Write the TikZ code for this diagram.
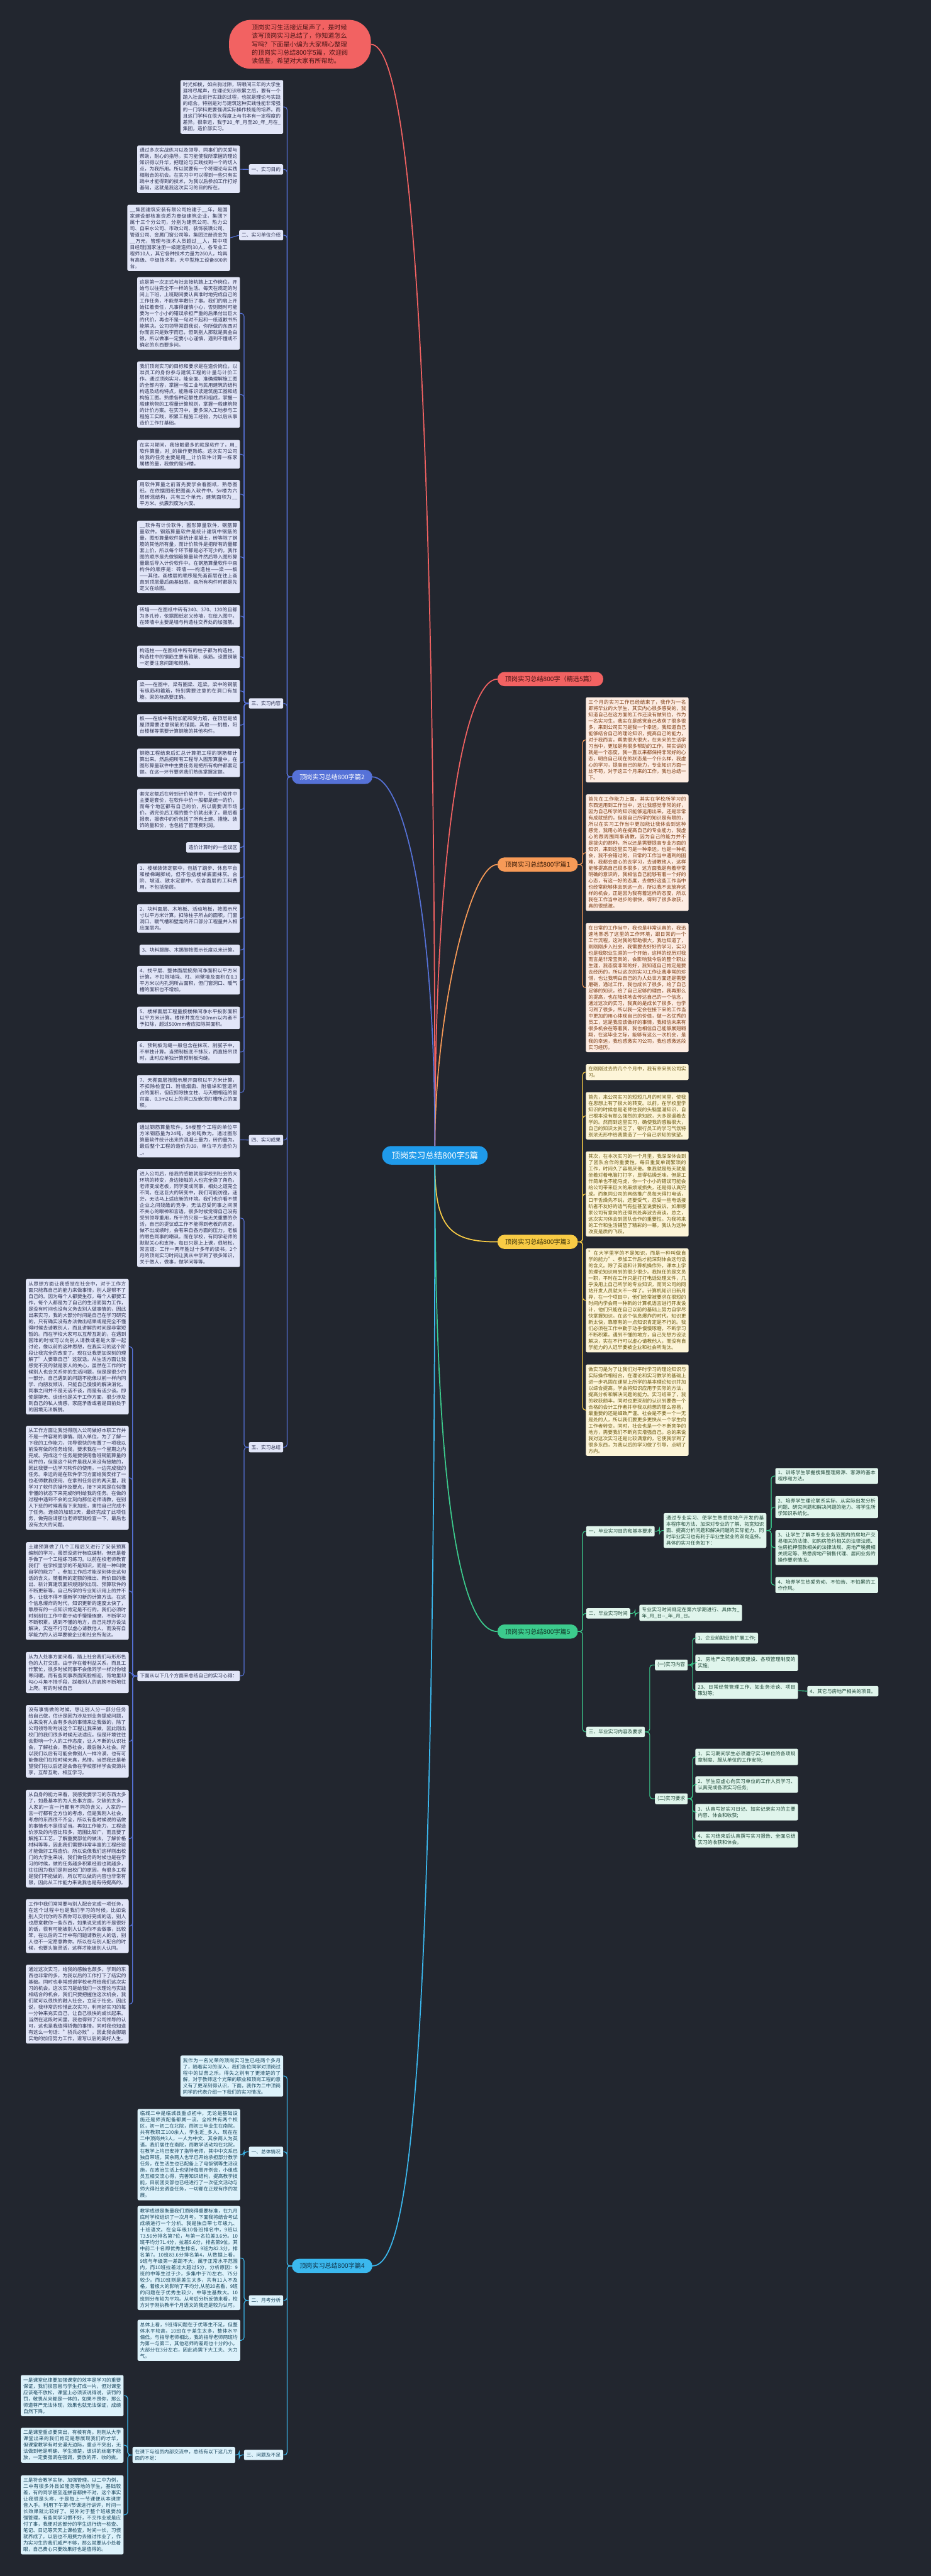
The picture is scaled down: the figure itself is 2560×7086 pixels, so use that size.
\documentclass[tikz,border=0pt]{standalone}
\usepackage{fontspec}
\setmainfont{Noto Sans CJK SC}
\usepackage{xcolor}
\usepackage{tikz}
\usetikzlibrary{positioning,calc}
\XeTeXlinebreaklocale "zh"
\XeTeXlinebreakskip = 0pt plus 1pt
\setlength{\parindent}{0pt}

\definecolor{bgc}{HTML}{22262F}
\definecolor{hubc}{HTML}{1F9AEA}
\definecolor{rtln}{HTML}{F26262}
\definecolor{rtdk}{HTML}{4A1515}
\definecolor{c1ln}{HTML}{F79A57}
\definecolor{c1bg}{HTML}{FDECE2}
\definecolor{c1fg}{HTML}{7B3A10}
\definecolor{c1dk}{HTML}{3A1A06}
\definecolor{c2ln}{HTML}{5672D8}
\definecolor{c2bg}{HTML}{E2E6F8}
\definecolor{c2fg}{HTML}{2B3050}
\definecolor{c3ln}{HTML}{F8CB45}
\definecolor{c3bg}{HTML}{FDF5D8}
\definecolor{c3fg}{HTML}{6A5710}
\definecolor{c3dk}{HTML}{3A3005}
\definecolor{c4ln}{HTML}{3BB8EE}
\definecolor{c4bg}{HTML}{DDF2FB}
\definecolor{c4fg}{HTML}{17445C}
\definecolor{c4dk}{HTML}{0D3147}
\definecolor{c5ln}{HTML}{3CCB8D}
\definecolor{c5bg}{HTML}{E0F5EC}
\definecolor{c5fg}{HTML}{1D4636}
\definecolor{c5dk}{HTML}{0F3325}

\begin{document}
\begin{tikzpicture}[
    x=1pt, y=-1pt,
    rootnode/.style={rectangle, rounded corners=60pt, fill=rtln, text=rtdk, text width=266pt, align=left, inner xsep=62pt, inner ysep=13pt, font=\fontsize{17.4pt}{23pt}\selectfont},
    hub/.style={rectangle, rounded corners=25pt, fill=hubc, text=white, minimum height=51pt, inner xsep=26pt, font=\fontsize{23.3pt}{28pt}\selectfont},
    branchnode/.style={rectangle, rounded corners=19pt, minimum height=39pt, inner xsep=21pt, font=\fontsize{17.5pt}{21pt}\selectfont},
    chip/.style={rectangle, rounded corners=4pt, inner xsep=7pt, inner ysep=8pt, font=\fontsize{13.4pt}{17.3pt}\selectfont},
    para/.style={chip, text width=268.5pt, align=justify, inner ysep=7pt},
    pal/.style={fill=#1bg, text=#1fg},
    wire/.style={draw=#1ln, line width=2pt, rounded corners=8pt},
    bigwire/.style={draw=#1ln, line width=3pt},
]

\fill[bgc] (0,0) rectangle (2560,7086);

% === ROOT AND HUB ===
\node[rootnode] (root) at (825,122) {顶岗实习生活接近尾声了，是时候该写顶岗实习总结了，你知道怎么写吗？下面是小编为大家精心整理的顶岗实习总结800字5篇，欢迎阅读借鉴，希望对大家有所帮助。};
\node[hub] (ctr) at (1196,3178) {顶岗实习总结800字5篇};
\draw[bigwire=rt] (root.east) .. controls (1150,122) and (1196,1400) .. (ctr.north);

% === 精选5篇 ===
\node[branchnode, fill=rtln, text=rtdk, anchor=west] (bsel) at (1368,1868) {顶岗实习总结800字（精选5篇）};
\draw[bigwire=rt] (ctr.north) .. controls (1196,2300) and (1280,1868) .. (bsel.west);

% === 篇1 ===
\node[branchnode, fill=c1ln, text=c1dk, anchor=west] (b1) at (1368,2378) {顶岗实习总结800字篇1};
\draw[bigwire=c1] (ctr.north) .. controls (1196,2800) and (1290,2378) .. (b1.west);

\node[para, pal=c1, anchor=north west] (b1a) at (1611,1918) {三个月的实习工作已经结束了，我作为一名即将毕业的大学生，其实内心很多感受的，我知道自己在这方面的工作还没有做到位，作为一名实习生，我实在是感觉自己收获了很多很多，来到公司实习是我一个幸运，我知道自己能够结合自己的理论知识，提高自己的能力，对于我而言，帮助很大很大，在未来的生活学习当中，更加是有很多帮助的工作，其实讲的就是一个态度，我一直以来都保持非常好的心态，明白自己现在的状态是一个什么样，我虚心的学习，提高自己的能力，专业知识方面一丝不苟，对于这三个月来的工作，我也总结一下。};
\node[para, pal=c1, anchor=north west] (b1b) at (1611,2185) {首先在工作能力上面，其实在学校所学习的东西运用到工作当中，这让我感觉非常的好，因为自己所学的知识能够运用出来，还是非常有成就感的，但是自己所学的知识是有限的，所以在实习工作当中更加能让我体会到这种感觉，我用心的在提高自己的专业能力，我虚心的跟周围同事请教，因为自己的能力并不是拔尖的那种，所以还是需要提高专业方面的知识，来到这里实习是一种幸运，也是一种机会，我不会错过的，日常的工作当中遇到的困难，我都会虚心的去学习，去请教他人，这样能够提高自己很多很多，这方面我是有着非常明确的意识的，我相信自己能够有着一个好的心态，有这一好的态度，去做好这些工作当中也经常能够体会到这一点，所以我不会放弃这样的机会，正是因为我有着这样的态度，所以我在工作当中进步的很快，得到了很多收获，真的很感激。};
\node[para, pal=c1, anchor=north west] (b1c) at (1611,2539) {在日常的工作当中，我也是非常认真的，我迅速地熟悉了这里的工作环境，跟日常的一个工作流程，这对我的帮助很大，我也知道了，刚刚刚步入社会，我需要去好好的学习，实习也是我职业生涯的一个开始，这样的经历对我而言是非常宝贵的，会影响我今后的整个职业生涯，我态度非常的好，我知道自己肯定是要去经历的，所以这次的实习工作让我非常的珍惜，也让我明白自己的为人处世方面还是需要磨砺，通过工作，我也成长了很多，给了自己足够的知识，给了自己足够的理由，我再那么的提高，也在陆续地去传达自己的一个信念，通过这次的实习，我真的是成长了很多，也学习到了很多，所以我一定会在接下来的工作当中更加的用心体现自己的价值，做一名优秀的员工，这是我应该做好的事情，我相信未来有很多机会在等着我，我也相信自己能够展翅翱翔，在这毕业之际，能够有这么一次机会，是我的幸运，我也感激实习公司，我也感激这段实习经历。};
\draw[wire=c1] (b1.east) -- ++(13,0) |- (b1a.west);
\draw[wire=c1] (b1.east) -- ++(13,0) |- (b1b.west);
\draw[wire=c1] (b1.east) -- ++(13,0) |- (b1c.west);

% === 篇3 ===
\node[branchnode, fill=c3ln, text=c3dk, anchor=west] (b3) at (1368,3416) {顶岗实习总结800字篇3};
\draw[bigwire=c3] (ctr.south) .. controls (1196,3380) and (1240,3416) .. (b3.west);

\node[para, pal=c3, anchor=north west] (b3a) at (1611,2927) {在刚刚过去的几个个月中，我有幸来到公司实习。};
\node[para, pal=c3, anchor=north west] (b3b) at (1611,3004) {首先，来公司实习的短短几月的时间里，使我在思想上有了很大的转变。以前，在学校里学知识的时候总是老师往我的头脑里灌知识，自己根本没有那么强烈的求知欲，大多是逼着去学的。然而到这里实习，确使我的感触很大，自己的知识太贫乏了，银行员工的学习气氛特别浓无形中给我营造了一个自己求知的欲望。};
\node[para, pal=c3, anchor=north west] (b3c) at (1611,3167) {其次，在本次实习的一个月里，我深深体会到了团队合作的重要性。每日重复单调繁琐的工作，时间久了容易厌倦。象我就是每天就是坐着对着电脑打打字，显得枯燥乏味。但是工作简单也不能马虎，你一个小小的错误可能会给公司带来巨大的麻烦或损失，还是得认真完成。而象同公司的网络推广员每天得打电话，口干舌燥先不说，还要受气，忍受一些电话接听者不友好的语气有些甚至说要投诉。如果哪家公司有意向的还得到处奔波去商谈。总之，这次实习体会到团队合作的重要性。为我将来的工作和生活铺垫了精彩的一幕，我认为这种改变是质的飞跃。};
\node[para, pal=c3, anchor=north west] (b3d) at (1611,3434) {"在大学里学的不是知识，而是一种叫做自学的能力"、参加工作后才能深刻体会这句话的含义。除了英语和计算机操作外，课本上学的理论知识用到的很少很少。我担任的是文员一职，平时在工作只是打打电话处理文件，几乎没用上自己所学的专业知识，而同公司的网站开发人员就大不一样了。计算机知识日新月异，在一个项目中，他们经常被要求在很短的时间内学会用一种新的计算机语言进行开发设计，他们只能在自己以前的基础上努力自学尽快掌握知识。在这个信息爆炸的时代，知识更新太快，靠原有的一点知识肯定是不行的。我们必须在工作中勤于动手慢慢琢磨，不断学习不断积累。遇到不懂的地方，自己先想方设法解决，实在不行可以虚心请教他人，而没有自学能力的人迟早要被企业和社会所淘汰。};
\node[para, pal=c3, anchor=north west] (b3e) at (1611,3753) {做实习是为了让我们对平时学习的理论知识与实际操作相结合，在理论和实习教学的基础上进一步巩固在课堂上所学的基本理论知识并加以综合提高，学会将知识应用于实际的方法，提高分析和解决问题的能力。实习结束了，我的收获颇丰，同时也更深刻的认识到要做一个合格的会计工作者并非我以前想的那么容易，最重要的还是细致严谨。社会是不要一个一无是处的人，所以我们要更多更快从一个学生向工作者转变，同时，社会也是一个不断竞争的地方，需要我们不断充实增强自己。总的来说我对这次实习还是比较满意的，它使我学到了很多东西，为我以后的学习做了引导，点明了方向。};
\draw[wire=c3] (b3.east) -- ++(13,0) |- (b3a.west);
\draw[wire=c3] (b3.east) -- ++(13,0) |- (b3b.west);
\draw[wire=c3] (b3.east) -- ++(13,0) |- (b3c.west);
\draw[wire=c3] (b3.east) -- ++(13,0) |- (b3d.west);
\draw[wire=c3] (b3.east) -- ++(13,0) |- (b3e.west);

% === 篇5 ===
\node[branchnode, fill=c5ln, text=c5dk, anchor=west] (b5) at (1368,4488) {顶岗实习总结800字篇5};
\draw[bigwire=c5] (ctr.south) .. controls (1196,4200) and (1280,4488) .. (b5.west);

\node[chip, pal=c5, anchor=west] (b5s1) at (1612,4212) {一、毕业实习目的和基本要求};
\node[para, pal=c5, anchor=north west] (b5s1a) at (1825,4162) {通过专业实习、使学生熟悉房地产开发的基本程序和方法、加深对专业的了解、拓宽知识面、提高分析问题和解决问题的实际能力、同时毕业实习也有利于毕业生就业的双向选择。具体的实习任务如下：};
\node[para, pal=c5, anchor=north west] (b5t1) at (2132,4038) {1、训练学生掌握搜集整理房源、客源的基本程序和方法。};
\node[para, pal=c5, anchor=north west] (b5t2) at (2132,4115) {2、培养学生理论联系实际、从实际出发分析问题、研究问题和解决问题的能力、将学生所学知识系统化。};
\node[para, pal=c5, anchor=north west] (b5t3) at (2132,4209) {3、让学生了解本专业业务范围内的房地产交易相关的法律、如购房签约相关的法律法规、住房抵押借款相关的法律法规、房地产税费相关规定等、熟悉房地产销售代理、居间业务的操作要求情况。};
\node[para, pal=c5, anchor=north west] (b5t4) at (2132,4338) {4、培养学生热爱劳动、不怕苦、不怕累的工作作风。};
\node[chip, pal=c5, anchor=west] (b5s2) at (1612,4438) {二、毕业实习时间};
\node[para, pal=c5, anchor=north west] (b5s2a) at (1758,4414) {专业实习时间规定在第六学期进行、具体为\_年\_月\_日-{}-\_年\_月\_日。};
\node[chip, pal=c5, anchor=west] (b5s3) at (1612,4764) {三、毕业实习内容及要求};
\node[chip, pal=c5, anchor=west] (b5u1) at (1801,4580) {(一)实习内容};
\node[chip, pal=c5, anchor=west] (b5v1) at (1912,4506) {1、企业前期业务扩展工作;};
\node[para, pal=c5, anchor=north west] (b5v2) at (1912,4551) {2、房地产公司的制度建设、各项管理制度的实施;};
\node[para, pal=c5, anchor=north west] (b5v3) at (1912,4628) {23、日常经营管理工作、如业务洽谈、项目策划等;};
\node[chip, pal=c5, anchor=west] (b5v4) at (2220,4652) {4、其它与房地产相关的项目。};
\node[chip, pal=c5, anchor=west] (b5u2) at (1801,4948) {(二)实习要求};
\node[para, pal=c5, anchor=north west] (b5w1) at (1912,4810) {1、实习期间学生必须遵守实习单位的各项规章制度、服从单位的工作安排;};
\node[para, pal=c5, anchor=north west] (b5w2) at (1912,4886) {2、学生应虚心向实习单位的工作人员学习、认真完成各项实习任务;};
\node[para, pal=c5, anchor=north west] (b5w3) at (1912,4962) {3、认真写好实习日记、如实记录实习的主要内容、体会和收获;};
\node[para, pal=c5, anchor=north west] (b5w4) at (1912,5038) {4、实习结束后认真撰写实习报告、全面总结实习的收获和体会。};
\draw[wire=c5] (b5.east) -- ++(13,0) |- (b5s1.west);
\draw[wire=c5] (b5.east) -- ++(13,0) |- (b5s2.west);
\draw[wire=c5] (b5.east) -- ++(13,0) |- (b5s3.west);
\draw[wire=c5] (b5s1.east) -- ++(13,0) |- (b5s1a.west);
\draw[wire=c5] (b5s1a.east) -- ++(13,0) |- (b5t1.west);
\draw[wire=c5] (b5s1a.east) -- ++(13,0) |- (b5t2.west);
\draw[wire=c5] (b5s1a.east) -- ++(13,0) |- (b5t3.west);
\draw[wire=c5] (b5s1a.east) -- ++(13,0) |- (b5t4.west);
\draw[wire=c5] (b5s2.east) -- ++(13,0) |- (b5s2a.west);
\draw[wire=c5] (b5s3.east) -- ++(13,0) |- (b5u1.west);
\draw[wire=c5] (b5s3.east) -- ++(13,0) |- (b5u2.west);
\draw[wire=c5] (b5u1.east) -- ++(13,0) |- (b5v1.west);
\draw[wire=c5] (b5u1.east) -- ++(13,0) |- (b5v2.west);
\draw[wire=c5] (b5u1.east) -- ++(13,0) |- (b5v3.west);
\draw[wire=c5] (b5v3.east) -- (b5v4.west);
\draw[wire=c5] (b5u2.east) -- ++(13,0) |- (b5w1.west);
\draw[wire=c5] (b5u2.east) -- ++(13,0) |- (b5w2.west);
\draw[wire=c5] (b5u2.east) -- ++(13,0) |- (b5w3.west);
\draw[wire=c5] (b5u2.east) -- ++(13,0) |- (b5w4.west);

% === 篇2 ===
\node[branchnode, fill=c2ln, text=white, anchor=east] (b2) at (1024,2137) {顶岗实习总结800字篇2};
\draw[bigwire=c2] (ctr.north) .. controls (1196,2450) and (1100,2137) .. (b2.east);

\node[para, pal=c2, anchor=north east] (b2p0) at (779,220) {时光如梭，如白驹过隙，转眼间三年的大学生涯将尽尾声，在理论知识积累之后，要有一个踏入社会进行实践的过程，也就是理论与实践的结合。特别是对与建筑这种实践性能非常强的一门学科更要强调实际操作技能的培养。而且这门学科在很大程度上与书本有一定程度的差异。很幸运，我于20\_年\_月至20\_年\_月在\_集团，造价部实习。};
\node[chip, pal=c2, anchor=east] (b2s1) at (779,466) {一、实习目的};
\node[para, pal=c2, anchor=north east] (b2s1a) at (660,400) {通过多次实战练习以及领导、同事们的关爱与帮助，耐心的指导。实习能使我所掌握的理论知识得以升华，把理论与实践找到一个的切入点，为我所用。所以就要有一个将理论与实践相融合的机会。在实习中可以得到一些只有实践中才能得到的技术，为我以后参加工作打好基础，这就是我这次实习的目的所在。};
\node[chip, pal=c2, anchor=east] (b2s2) at (779,647) {二、实习单位介绍};
\node[para, pal=c2, anchor=north east] (b2s2a) at (633,563) {\_\_集团建筑安装有限公司始建于\_\_年，是国家建设部核准资质为壹级建筑企业，集团下属十三个分公司，分别为建筑公司、热力公司、自来水公司、市政公司、装饰装璜公司、管道公司、金属门窗公司等。集团注册资金为\_\_万元，管理与技术人员超过\_\_人，其中项目经理(国家注册一级建造师)30人，各专业工程师10人，其它各种技术力量为260人，均具有高级、中级技术职。大中型施工设备800余台。};
\node[chip, pal=c2, anchor=east] (b2s3) at (779,1935) {三、实习内容};
\node[para, pal=c2, anchor=north east] (k01) at (660,762) {这是第一次正式与社会接轨踏上工作岗位，开始与以往完全不一样的生活。每天在规定的时间上下班，上班期间要认真准时地完成自己的工作任务，不能草率敷衍了事。我们的肩上开始扛着责任，凡事得谨慎小心，否则随时可能要为一个小小的错误承担严重的后果付出巨大的代价，再也不是一句对不起和一纸道歉书所能解决。公司领导常跟我说，你所做的东西对你而言只是数字而已，但到别人那就是真金白银，所以做事一定要小心谨慎，遇到不懂或不确定的东西要多问。};
\node[para, pal=c2, anchor=north east] (k02) at (660,994) {我们顶岗实习的目标和要求是在造价岗位，以准员工的身份参与建筑工程的计量与计价工作。通过顶岗实习，能全面、准确理解施工图的全部内容，掌握一般工业与民用建筑的结构构造及结构特点，能熟练识读建筑施工图和结构施工图。熟悉各种定额性质和组成，掌握一般建筑物的工程量计算规则，掌握一般建筑物的计价方案。在实习中，要多深入工地参与工程施工实践，积累工程施工经验，为以后从事造价工作打基础。};
\node[para, pal=c2, anchor=north east] (k03) at (660,1210) {在实习期间，我接触最多的就是软件了，用\_软件算量，对\_的操作更熟练。这次实习公司给我的任务主要是用\_\_计价软件计算一栋家属楼的量，我做的是5\#楼。};
\node[para, pal=c2, anchor=north east] (k04) at (660,1320) {用软件算量之前首先要学会看图纸，熟悉图纸。在依据图纸把图画入软件中。5\#楼为六层砖混结构，共有三个单元，建筑面积为\_\_平方米。抗震烈度为六度。};
\node[para, pal=c2, anchor=north east] (k05) at (660,1432) {\_\_软件有计价软件，图形算量软件，钢筋算量软件。钢筋算量软件是统计建筑中钢筋的量，图形算量软件是统计混凝土，砖等除了钢筋的其他所有量，而计价软件是把所有的量都套上价，所以每个环节都是必不可少的。我作图的顺序是先做钢筋算量软件然后导入图形算量最后导入计价软件中。在钢筋算量软件中画构件的顺序是：砖墙——构造柱——梁——板——其他。画楼层的顺序是先画首层在往上画直到顶层最后画基础层。画所有构件时都是先定义在绘图。};
\node[para, pal=c2, anchor=north east] (k06) at (660,1664) {砖墙——在图纸中砖有240、370、120的且都为多孔砖，依据图纸定义砖墙，在绘入图中。在砖墙中主要是墙与构造柱交界处的加强筋。};
\node[para, pal=c2, anchor=north east] (k07) at (660,1776) {构造柱——在图纸中所有的柱子都为构造柱。构造柱中的钢筋主要有箍筋、纵筋。设置钢筋一定要注意间距和规格。};
\node[para, pal=c2, anchor=north east] (k08) at (660,1870) {梁——在图中，梁有圈梁、连梁。梁中的钢筋有纵筋和箍筋，特别需要注意的在洞口有加筋。梁的标高要正确。};
\node[para, pal=c2, anchor=north east] (k09) at (660,1964) {板——在板中有附加筋和受力筋，在顶层是坡屋顶需要注意钢筋的锚固。其他——挑檐，阳台楼梯等需要计算钢筋的其他构件。};
\node[para, pal=c2, anchor=north east] (k10) at (660,2059) {钢筋工程结束后汇总计算把工程的钢筋都计算出来。然后把所有工程导入图形算量中。在图形算量软件中主要任务是把所有构件都套定额。在这一环节要求我们熟练掌握定额。};
\node[para, pal=c2, anchor=north east] (k11) at (660,2170) {套完定额后在转到计价软件中，在计价软件中主要是套价，在软件中价一般都是统一的价，而每个地区都有自己的价，所以需要调市场价。调完价后工程的整个价就出来了。最后看报表，报表中的价包括了所有土建、措施、装饰的量和价，也包括了管理费利润。};
\node[chip, pal=c2, anchor=east] (k12) at (660,2331) {造价计算时的一些误区};
\node[para, pal=c2, anchor=north east] (k13) at (660,2375) {1、楼梯装饰定额中，包括了踏步、休息平台和楼梯踢脚线，但不包括楼梯底面抹灰。台阶、坡道、散水定额中，仅含面层的工料费用，不包括垫层。};
\node[para, pal=c2, anchor=north east] (k14) at (660,2487) {2、块料面层、木地板、活动地板，按图示尺寸以平方米计算。扣除柱子所占的面积，门窗洞口、暖气槽和壁龛的开口部分工程量并入相应面层内。};
\node[chip, pal=c2, anchor=east] (k15) at (660,2613) {3、块料踢脚、木踢脚按图示长度以米计算。};
\node[para, pal=c2, anchor=north east] (k16) at (660,2657) {4、找平层、整体面层按房间净面积以平方米计算，不扣除墙垛、柱、间壁墙及面积在0.3平方米以内孔洞所占面积，但门窗洞口、暖气槽的面积也不增加。};
\node[para, pal=c2, anchor=north east] (k17) at (660,2769) {5、楼梯面层工程量按楼梯间净水平投影面积以平方米计算。楼梯井宽在500mm以内者不予扣除，超过500mm者应扣除其面积。};
\node[para, pal=c2, anchor=north east] (k18) at (660,2863) {6、预制板沟缝一般包含在抹灰、刮腻子中，不单独计算。当预制板底不抹灰，而直接吊顶时，此时应单独计算预制板沟缝。};
\node[para, pal=c2, anchor=north east] (k19) at (660,2957) {7、天棚面层按图示展开面积以平方米计算，不扣除检查口、附墙烟囱、附墙垛和管道所占的面积，但应扣除独立柱、与天棚相连的窗帘盒、0.3m2以上的洞口及嵌顶灯槽所占的面积。};
\node[chip, pal=c2, anchor=east] (b2s4) at (779,3136) {四、实习成果};
\node[para, pal=c2, anchor=north east] (b2s4a) at (660,3087) {通过钢筋算量软件，5\#楼整个工程的单位平方米钢筋量为24吨，总的吨数为。通过图形算量软件统计出来的混凝土量为，砖的量为。最后整个工程的造价为39，单位平方造价为\_。};
\node[chip, pal=c2, anchor=east] (b2s5) at (779,3981) {五、实习总结};
\node[para, pal=c2, anchor=north east] (b2s5a) at (660,3216) {进入公司后，给我的感触就是学校到社会的大环境的转变，身边接触的人也完全换了角色，老师变成老板，同学变成同事，相处之道完全不同。在这巨大的转变中，我们可能彷徨，迷茫，无法马上适应新的环境。我们也许看不惯企业之间残酷的竞争，无法忍受同事之间漠不关心的眼神和言语。很多时候觉得自己没有受到领导重用，所干的只是一些无关重要的杂活，自己的提议或工作不能得到老板的肯定。做不出成绩时，会有来自各方面的压力，老板的眼色同事的嘲讽。而在学校，有同学老师的默默关心和支持，每日只是上上课，很轻松。常言道：工作一两年胜过十多年的读书。2个月的顶岗实习时间让我从中学到了很多知识，关于做人，做事，做学问等等。};
\node[chip, pal=c2, anchor=east] (b2s5b) at (660,4610) {下面从以下几个方面来总结自己的实习心得：};
\node[para, pal=c2, anchor=north east] (e1) at (354,3518) {从思想方面让我感觉在社会中，对于工作方面只能靠自己的能力来做事情，别人是帮不了自己的。因为每个人都要生存，每个人都要工作，每个人都是为了自己的生活而努力工作，是没有时间也没有义务去别人做事情的，因此出来实习，我的大部分时间是自己在学习研究的，只有确实没有办法做出结果或是完全不懂得时候去请教别人，而且讲解的时间是非常短暂的。而在学校大家可以互帮互助的，在遇到困难的时候可以向别人请教或者是大家一起讨论，像以前的这种思想，在我实习的这个阶段让我完全的改变了。现在让我更加深刻的理解了"人要靠自己"这就话。从生活方面让我感觉不变的就是家人的关心，虽然在工作的时候别人也会关系你的生活问题，但是是很少的一部分。自己遇到的问题不能像以前一样向同学、向朋友倾诉，只能自己慢慢的解决消化。同事之间并不是无话不谈，而是有话少谈。即使是聊天、谈话也是关于工作方面，很少涉及到自己的私人情感，家庭矛盾或者是目前处于的困境无法解脱。};
\node[para, pal=c2, anchor=north east] (e2) at (354,3922) {从工作方面让我觉得刚入公司做好本职工作并不是一件容易的事情。刚入单位，为了了解一下我的工作能力，领导很快的布置了一项我以前没有做的任务给我，要求我在一个星期之内完成。完成这个任务是要使用鲁班钢筋算量的软件的，但是这个软件是我从来没有接触的，因此我要一边学习软件的使用，一边完成我的任务。幸运的是在软件学习方面给我安排了一位老师教我使用，在拿到任务后的两天里，我学习了软件的操作及要点，接下来就是在似懂非懂的状态下来完成吩咐给我的任务。在做的过程中遇到不会的立刻向那位老师请教，在别人下班的时候我留下来加班，害怕自己完成不了任务。连续的加班3天，最终完成了此项任务，做完后请那位老师帮我检查一下，最后也没有太大的问题。};
\node[para, pal=c2, anchor=north east] (e3) at (354,4242) {土建预算做了几个工程后又进行了安装预算编制的学习，虽然没进行标底编制，但还是着手做了一个工程练习练习。以前在校老师教育我们"在学校里学的不是知识，而是一种叫做自学的能力"。参加工作后才能深刻体会这句话的含义。随着新的定额的推出、新价目的推出、新计算建筑面积规则的出现、预算软件的不断更新等，自己所学的专业知识用上的并不多，让我不得不重新学习新的计算方法。在这个信息爆炸的时代，知识更新的速度太快了，靠原有的一点知识肯定是不行的。我们必须时时刻刻在工作中勤于动手慢慢琢磨，不断学习不断积累。遇到不懂的地方，自己先想方设法解决，实在不行可以虚心请教他人，而没有自学能力的人迟早要被企业和社会所淘汰。};
\node[para, pal=c2, anchor=north east] (e4) at (354,4544) {从为人处事方面来看，踏上社会我们与形形色色的人打交道。由于存在着利益关系，而且工作繁忙，很多时候同事不会像同学一样对你嘘寒问暖。而有些同事表面笑脸相迎，背地里却勾心斗角不择手段，踩着别人的肩膀不断地往上爬。有的时候自己};
\node[para, pal=c2, anchor=north east] (e5) at (354,4690) {没有事情做的时候，想让别人分一部分任务给自己做，估计是因为涉及到业务提成问题，从来没有人会有多余的事情来让我做的，除了公司领导吩咐说这个工程让我来做，因此刚出校门的我们很多时候无法适应。但是环境往往会影响一个人的工作态度，让人不断的认识社会，了解社会，熟悉社会，最后融入社会。所以我们以后有可能会像别人一样冷漠，也有可能像我们在校时候天真，热情。当然我还是希望我们在以后还是会像在学校那样学会资源共享，互帮互助，相互学习。};
\node[para, pal=c2, anchor=north east] (e6) at (354,4923) {从自身的能力来看，我感觉要学习的东西太多了，如最基本的为人处事方面，欠缺的太多，人家的一言一行都有不同的含义，人家的一言一行都有全方位的考虑，但是我刚入社会，考虑的东西很不齐全，所以有些时候说的话做的事情也不是很妥当。再如工作能力，工程造价涉及的内容比较多，范围比较广，而且要了解施工工艺，了解重要部位的做法，了解价格材料等等，因此我们需要非常丰富的工程经验才能做好工程造价。所以说像我们这样刚出校门的大学生来说，我们做任务的时候也是在学习的时候，做的任务越多积累经验也就越多，往往因为我们是刚出校门的原因，有很多工程是我们不能做的，所以可以做的内容也非常有限，因此从工作能力来说我也是有待提高的。};
\node[para, pal=c2, anchor=north east] (e7) at (354,5224) {工作中我们常常要与别人配合完成一项任务，在这个过程中也是我们学习的时候，比如说别人交代你的东西你可以很好完成的话，别人也愿意教你一些东西，如果说完成的不是很好的话，很有可能被别人认为你不会做事，比较笨，在以后的工作中有问题请教别人的话，别人也不一定愿意教你。所以在与别人配合的时候，也要头脑灵活，这样才能被别人认同。};
\node[para, pal=c2, anchor=north east] (e8) at (354,5404) {通过这次实习，给我的感触也颇多。学到的东西也非常的多，为我以后的工作打下了结实的基础。同时也非常感谢学校老师给我们这次实习的机会。这次实习是给我们一次理论与实践相结合的机会，我们只要把握住这次机会，我们就可以很快的融入社会，立足于社会。因此说，我非常的珍惜此次实习，利用好实习的每一分钟来充实自己，让自己很快的成长起来。当然在这段时间里，我也得到了公司领导的认可，这也是我值得骄傲的事情。同时我也知道有这么一句话："骄兵必败"，因此我会脚踏实地的加倍努力工作，谱写以后的美好人生。};

\draw[wire=c2] (b2.west) -- ++(-13,0) |- (b2p0.east);
\draw[wire=c2] (b2.west) -- ++(-13,0) |- (b2s1.east);
\draw[wire=c2] (b2.west) -- ++(-13,0) |- (b2s2.east);
\draw[wire=c2] (b2.west) -- ++(-13,0) |- (b2s3.east);
\draw[wire=c2] (b2.west) -- ++(-13,0) |- (b2s4.east);
\draw[wire=c2] (b2.west) -- ++(-13,0) |- (b2s5.east);
\draw[wire=c2] (b2s1.west) -- (b2s1a.east);
\draw[wire=c2] (b2s2.west) -- (b2s2a.east);
\draw[wire=c2] (b2s3.west) -- ++(-13,0) |- (k01.east);
\draw[wire=c2] (b2s3.west) -- ++(-13,0) |- (k02.east);
\draw[wire=c2] (b2s3.west) -- ++(-13,0) |- (k03.east);
\draw[wire=c2] (b2s3.west) -- ++(-13,0) |- (k04.east);
\draw[wire=c2] (b2s3.west) -- ++(-13,0) |- (k05.east);
\draw[wire=c2] (b2s3.west) -- ++(-13,0) |- (k06.east);
\draw[wire=c2] (b2s3.west) -- ++(-13,0) |- (k07.east);
\draw[wire=c2] (b2s3.west) -- ++(-13,0) |- (k08.east);
\draw[wire=c2] (b2s3.west) -- ++(-13,0) |- (k09.east);
\draw[wire=c2] (b2s3.west) -- ++(-13,0) |- (k10.east);
\draw[wire=c2] (b2s3.west) -- ++(-13,0) |- (k11.east);
\draw[wire=c2] (b2s3.west) -- ++(-13,0) |- (k12.east);
\draw[wire=c2] (b2s3.west) -- ++(-13,0) |- (k13.east);
\draw[wire=c2] (b2s3.west) -- ++(-13,0) |- (k14.east);
\draw[wire=c2] (b2s3.west) -- ++(-13,0) |- (k15.east);
\draw[wire=c2] (b2s3.west) -- ++(-13,0) |- (k16.east);
\draw[wire=c2] (b2s3.west) -- ++(-13,0) |- (k17.east);
\draw[wire=c2] (b2s3.west) -- ++(-13,0) |- (k18.east);
\draw[wire=c2] (b2s3.west) -- ++(-13,0) |- (k19.east);
\draw[wire=c2] (b2s4.west) -- (b2s4a.east);
\draw[wire=c2] (b2s5.west) -- ++(-13,0) |- (b2s5a.east);
\draw[wire=c2] (b2s5.west) -- ++(-13,0) |- (b2s5b.east);
\draw[wire=c2] (b2s5b.west) -- ++(-13,0) |- (e1.east);
\draw[wire=c2] (b2s5b.west) -- ++(-13,0) |- (e2.east);
\draw[wire=c2] (b2s5b.west) -- ++(-13,0) |- (e3.east);
\draw[wire=c2] (b2s5b.west) -- ++(-13,0) |- (e4.east);
\draw[wire=c2] (b2s5b.west) -- ++(-13,0) |- (e5.east);
\draw[wire=c2] (b2s5b.west) -- ++(-13,0) |- (e6.east);
\draw[wire=c2] (b2s5b.west) -- ++(-13,0) |- (e7.east);
\draw[wire=c2] (b2s5b.west) -- ++(-13,0) |- (e8.east);

% === 篇4 ===
\node[branchnode, fill=c4ln, text=c4dk, anchor=east] (b4) at (1024,6233) {顶岗实习总结800字篇4};
\draw[bigwire=c4] (ctr.south) .. controls (1196,5800) and (1120,6233) .. (b4.east);

\node[para, pal=c4, anchor=north east] (b4p0) at (779,5654) {我作为一名光荣的顶岗实习生已经两个多月了，随着实习的深入，我们各位同学对顶岗过程中的甘苦之乐，得失之别有了更清楚的了解，对于教师这个光荣的职业和顶岗工程的意义有了更深刻得认识，下面，我作为二中顶岗同学的代表介绍一下我们的实习情况。};
\node[chip, pal=c4, anchor=east] (b4s1) at (779,5919) {一、总体情况};
\node[para, pal=c4, anchor=north east] (b4s1a) at (661,5801) {临城二中是临城县重点初中，无论是基础设施还是师资配备都属一流，全校共有两个校区，初一初二在北院，而初三毕业生在南院，共有教职工100余人，学生近\_多人、现在在二中顶岗共3人，一人为中文、其余两人为英语。我们居住在南院，而教学活动均在北院，在教学上均已安排了指导老师，其中中文系已独自带班，其余两人也早已开始承担部分教学任务，在生活生也已配备上了电饭锅等生活设施，在政治生活上也坚持每周开例会，小组成员互相交流心得，完善知识结构，提高教学技能，目前团支部也已经进行了一次征文活动与师大得社会调查任务，一切都在正规有序的发展。};
\node[chip, pal=c4, anchor=east] (b4s2) at (779,6328) {二、月考分析};
\node[para, pal=c4, anchor=north east] (b4s2a) at (661,6068) {教学成绩是衡量我们顶岗得重要标准，在九月底时学校组织了一次月考，下面我将结合考试成绩进行一个分析。我是独自带七年级九、十班语文。在全年级10各班排名中，9班以73.56分排名第7位，与第一名拉差3.6分。10班平均分71.4分，拉差5.6分，排名第9位。其中前二十名即优秀生排名，9班为82.3分，排名第7。10班83.6分排名第4，从数据上看，9班与年级第一差距不大，属于正常水平范围内，而10班拉差过大超过5分，分析原因：9班的中等生过于少，多集中于70左右、75分较少。而10班则是差生太多，共有11人不及格，着极大的影响了平均分,从前20名看，9班的问题在于优秀生较少，中等生基数大。10班则分布较为平均。从考后分析反馈来看，校方对于刚执教半个月语文的我还是较为认可。};
\node[para, pal=c4, anchor=north east] (b4s2b) at (661,6381) {总体上看，9班得问题在于优等生不足，但整体水平较高，10班在于差生太多，整体水平偏低。与指导老师相比，我的指导老师两班均为第一与第二，其他老师的差距也十分的小，大部分在3分左右，因此尚需下大工夫、大力气。};
\node[chip, pal=c4, anchor=east] (b4s3) at (779,6753) {三、问题及不足};
\node[para, pal=c4, anchor=north east] (b4s3a) at (647,6731) {在课下与组员内部交流中，总结有以下这几方面的不足：};
\node[para, pal=c4, anchor=north east] (b4q1) at (340,6533) {一是课堂纪律要加强课堂的效率是学习的重要保证，我们很容易与学生打成一片，但对课堂应该毫不放松，课堂上必须该说得说，该罚的罚，敬畏从来都是一体的，如果不畏你，那么师道尊严无法体现，效果也就无法保证，成绩自然下降。};
\node[para, pal=c4, anchor=north east] (b4q2) at (340,6678) {二是课堂重点要突出，有棱有角。刚刚从大学课堂出来的我们肯定是想展现我们的才华，但课堂教学有时会漫无边际，重点不突出，无法做到老是明确、学生清楚，该讲的丝毫不能放，一定要强调在强调，要放的开、收的拢。};
\node[para, pal=c4, anchor=north east] (b4q3) at (340,6809) {三是符合教学实际、加强管理。以二中为例，二中有很多外县如隆尧等地的学生，基础较差，有的同学甚至连拼音都拼不对，这个事实让我很是头疼，于是每上一节课便从本课拼音入手。利用下午第4节课进行讲评，时间一长效果就比较好了。另外对于整个班级要加强管理，有些同学习惯不好，不交作业或是应付了事，我便对这部分的学生进行统一检查、笔记、日记等天天上课检查，时间一长，习惯就养成了。以后也不用费力去催讨作业了，作为实习生的我们威严不够，那么就要从小处着眼，自己费心只要效果好也是值得的。};

\draw[wire=c4] (b4.west) -- ++(-13,0) |- (b4p0.east);
\draw[wire=c4] (b4.west) -- ++(-13,0) |- (b4s1.east);
\draw[wire=c4] (b4.west) -- ++(-13,0) |- (b4s2.east);
\draw[wire=c4] (b4.west) -- ++(-13,0) |- (b4s3.east);
\draw[wire=c4] (b4s1.west) -- ++(-13,0) |- (b4s1a.east);
\draw[wire=c4] (b4s2.west) -- ++(-13,0) |- (b4s2a.east);
\draw[wire=c4] (b4s2.west) -- ++(-13,0) |- (b4s2b.east);
\draw[wire=c4] (b4s3.west) -- ++(-13,0) |- (b4s3a.east);
\draw[wire=c4] (b4s3a.west) -- ++(-13,0) |- (b4q1.east);
\draw[wire=c4] (b4s3a.west) -- ++(-13,0) |- (b4q2.east);
\draw[wire=c4] (b4s3a.west) -- ++(-13,0) |- (b4q3.east);

\end{tikzpicture}
\end{document}
